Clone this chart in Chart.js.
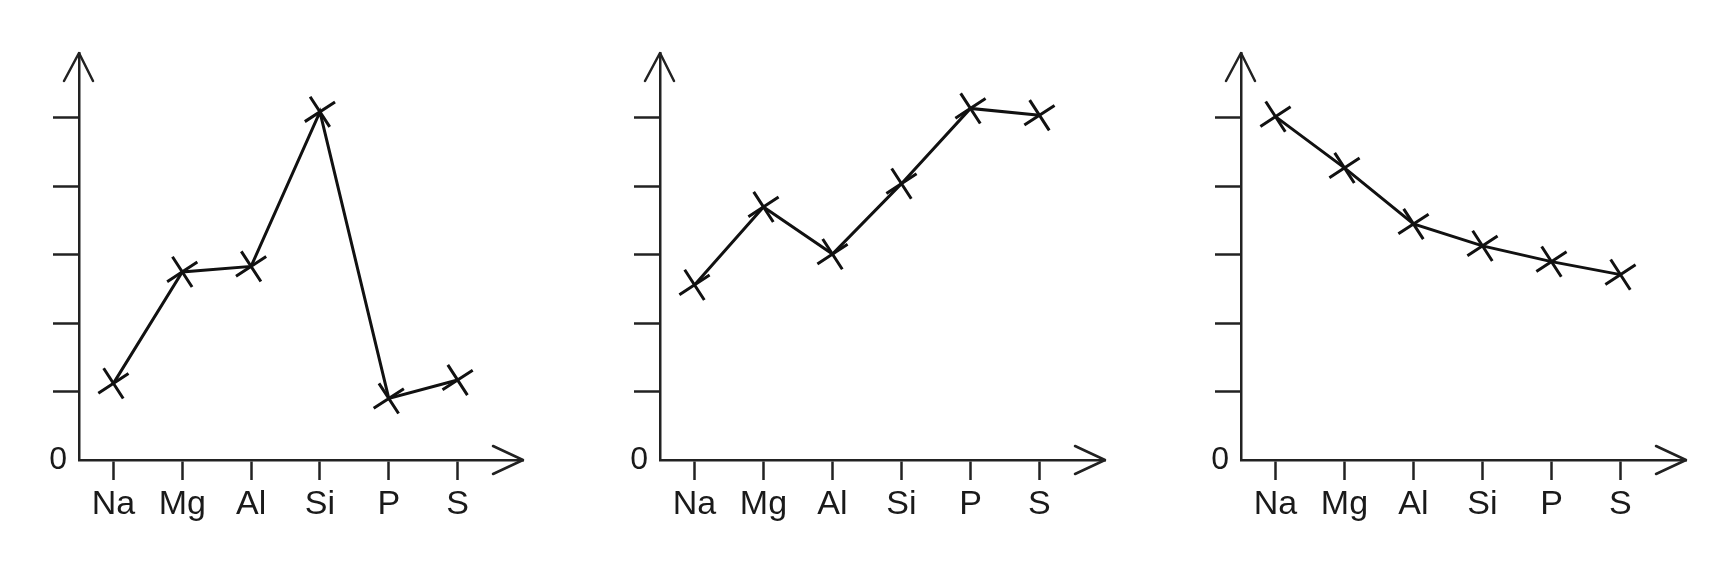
<!DOCTYPE html>
<html>
<head>
<meta charset="utf-8">
<script src="https://cdn.jsdelivr.net/npm/chart.js@4"></script>
<style>
  html, body { margin: 0; padding: 0; background: #fff; }
  body { width: 1723px; height: 575px; position: relative; overflow: hidden; }
  .panel { position: absolute; top: 0; height: 575px; }
</style>
</head>
<body>
<div class="panel" id="p1" style="left:0px;width:581px"><canvas id="c1"></canvas></div>
<div class="panel" id="p2" style="left:581px;width:581px"><canvas id="c2"></canvas></div>
<div class="panel" id="p3" style="left:1162px;width:561px"><canvas id="c3"></canvas></div>
<script>
// ---- data ----
const elements = ['Na', 'Mg', 'Al', 'Si', 'P', 'S'];
const series1 = [1.12, 2.75, 2.83, 5.09, 0.90, 1.17];
const series2 = [2.56, 3.70, 3.01, 4.04, 5.14, 5.04];
const series3 = [5.02, 4.27, 3.45, 3.13, 2.90, 2.71];
const yTickValues = [0, 1, 2, 3, 4, 5];
const yTickLabels = ['0', '', '', '', '', ''];

const INK = '#111111';
const AXIS = '#222222';

const arrowPlugin = {
  id: 'arrows',
  afterDraw(chart) {
    const { ctx, chartArea } = chart;
    const xs = chart.scales.x, ys = chart.scales.y;
    const ox = xs.left, oy = ys.bottom;
    ctx.save();
    ctx.strokeStyle = AXIS;
    ctx.lineWidth = 2.5;
    ctx.lineCap = 'round';
    ctx.lineJoin = 'round';
    const ty = chartArea.top;
    ctx.beginPath();
    ctx.moveTo(ox - 15, ty + 28);
    ctx.lineTo(ox, ty);
    ctx.lineTo(ox + 14, ty + 28);
    ctx.stroke();
    const tx = chartArea.right;
    ctx.beginPath();
    ctx.moveTo(tx - 30, oy - 14);
    ctx.lineTo(tx, oy);
    ctx.lineTo(tx - 30, oy + 14);
    ctx.stroke();
    ctx.restore();
  }
};

function makeChart(id, values, rightPad) {
  const pts = elements.map((e, i) => ({ x: i, y: values[i] }));
  return new Chart(document.getElementById(id), {
    type: 'line',
    data: {
      datasets: [{
        data: pts,
        borderColor: INK,
        borderWidth: 3,
        tension: 0,
        fill: false,
        clip: false,
        pointStyle: 'crossRot',
        pointRadius: 18,
        pointHoverRadius: 18,
        pointBorderWidth: 3,
        pointBorderColor: INK,
        pointBackgroundColor: INK,
        pointRotation: 12
      }]
    },
    options: {
      responsive: true,
      maintainAspectRatio: false,
      animation: false,
      events: [],
      layout: { padding: { top: 53, right: rightPad, left: 0, bottom: 0 } },
      plugins: { legend: { display: false }, tooltip: { enabled: false } },
      scales: {
        x: {
          type: 'linear',
          min: -0.5,
          max: 5.95,
          afterBuildTicks(s) { s.ticks = elements.map((e, i) => ({ value: i })); },
          afterFit(s) { s.height = 115; },
          ticks: {
            callback: (v) => elements[v] ?? '',
            font: { family: "'Liberation Sans', Arial, sans-serif", size: 34 },
            color: '#1a1a1a',
            padding: 4,
            maxRotation: 0,
            autoSkip: false
          },
          grid: {
            drawOnChartArea: false,
            drawTicks: true,
            tickLength: 20,
            tickWidth: 2.5,
            tickColor: AXIS
          },
          border: { display: true, color: AXIS, width: 2.5 }
        },
        y: {
          type: 'linear',
          min: 0,
          max: 5.95,
          afterBuildTicks(s) { s.ticks = yTickValues.map(v => ({ value: v })); },
          afterFit(s) { s.width = 79; },
          ticks: {
            callback: (v) => yTickLabels[yTickValues.indexOf(v)] ?? '',
            font: { family: "'Liberation Sans', Arial, sans-serif", size: 32 },
            color: '#1a1a1a',
            padding: -14,
            autoSkip: false
          },
          grid: {
            drawOnChartArea: false,
            drawTicks: true,
            tickLength: 26,
            tickWidth: 2.5,
            tickColor: (c) => (c.tick && c.tick.value === 0) ? 'rgba(0,0,0,0)' : AXIS
          },
          border: { display: true, color: AXIS, width: 2.5 }
        }
      }
    },
    plugins: [arrowPlugin]
  });
}

makeChart('c1', series1, 58);
makeChart('c2', series2, 57);
makeChart('c3', series3, 37);
</script>
</body>
</html>
